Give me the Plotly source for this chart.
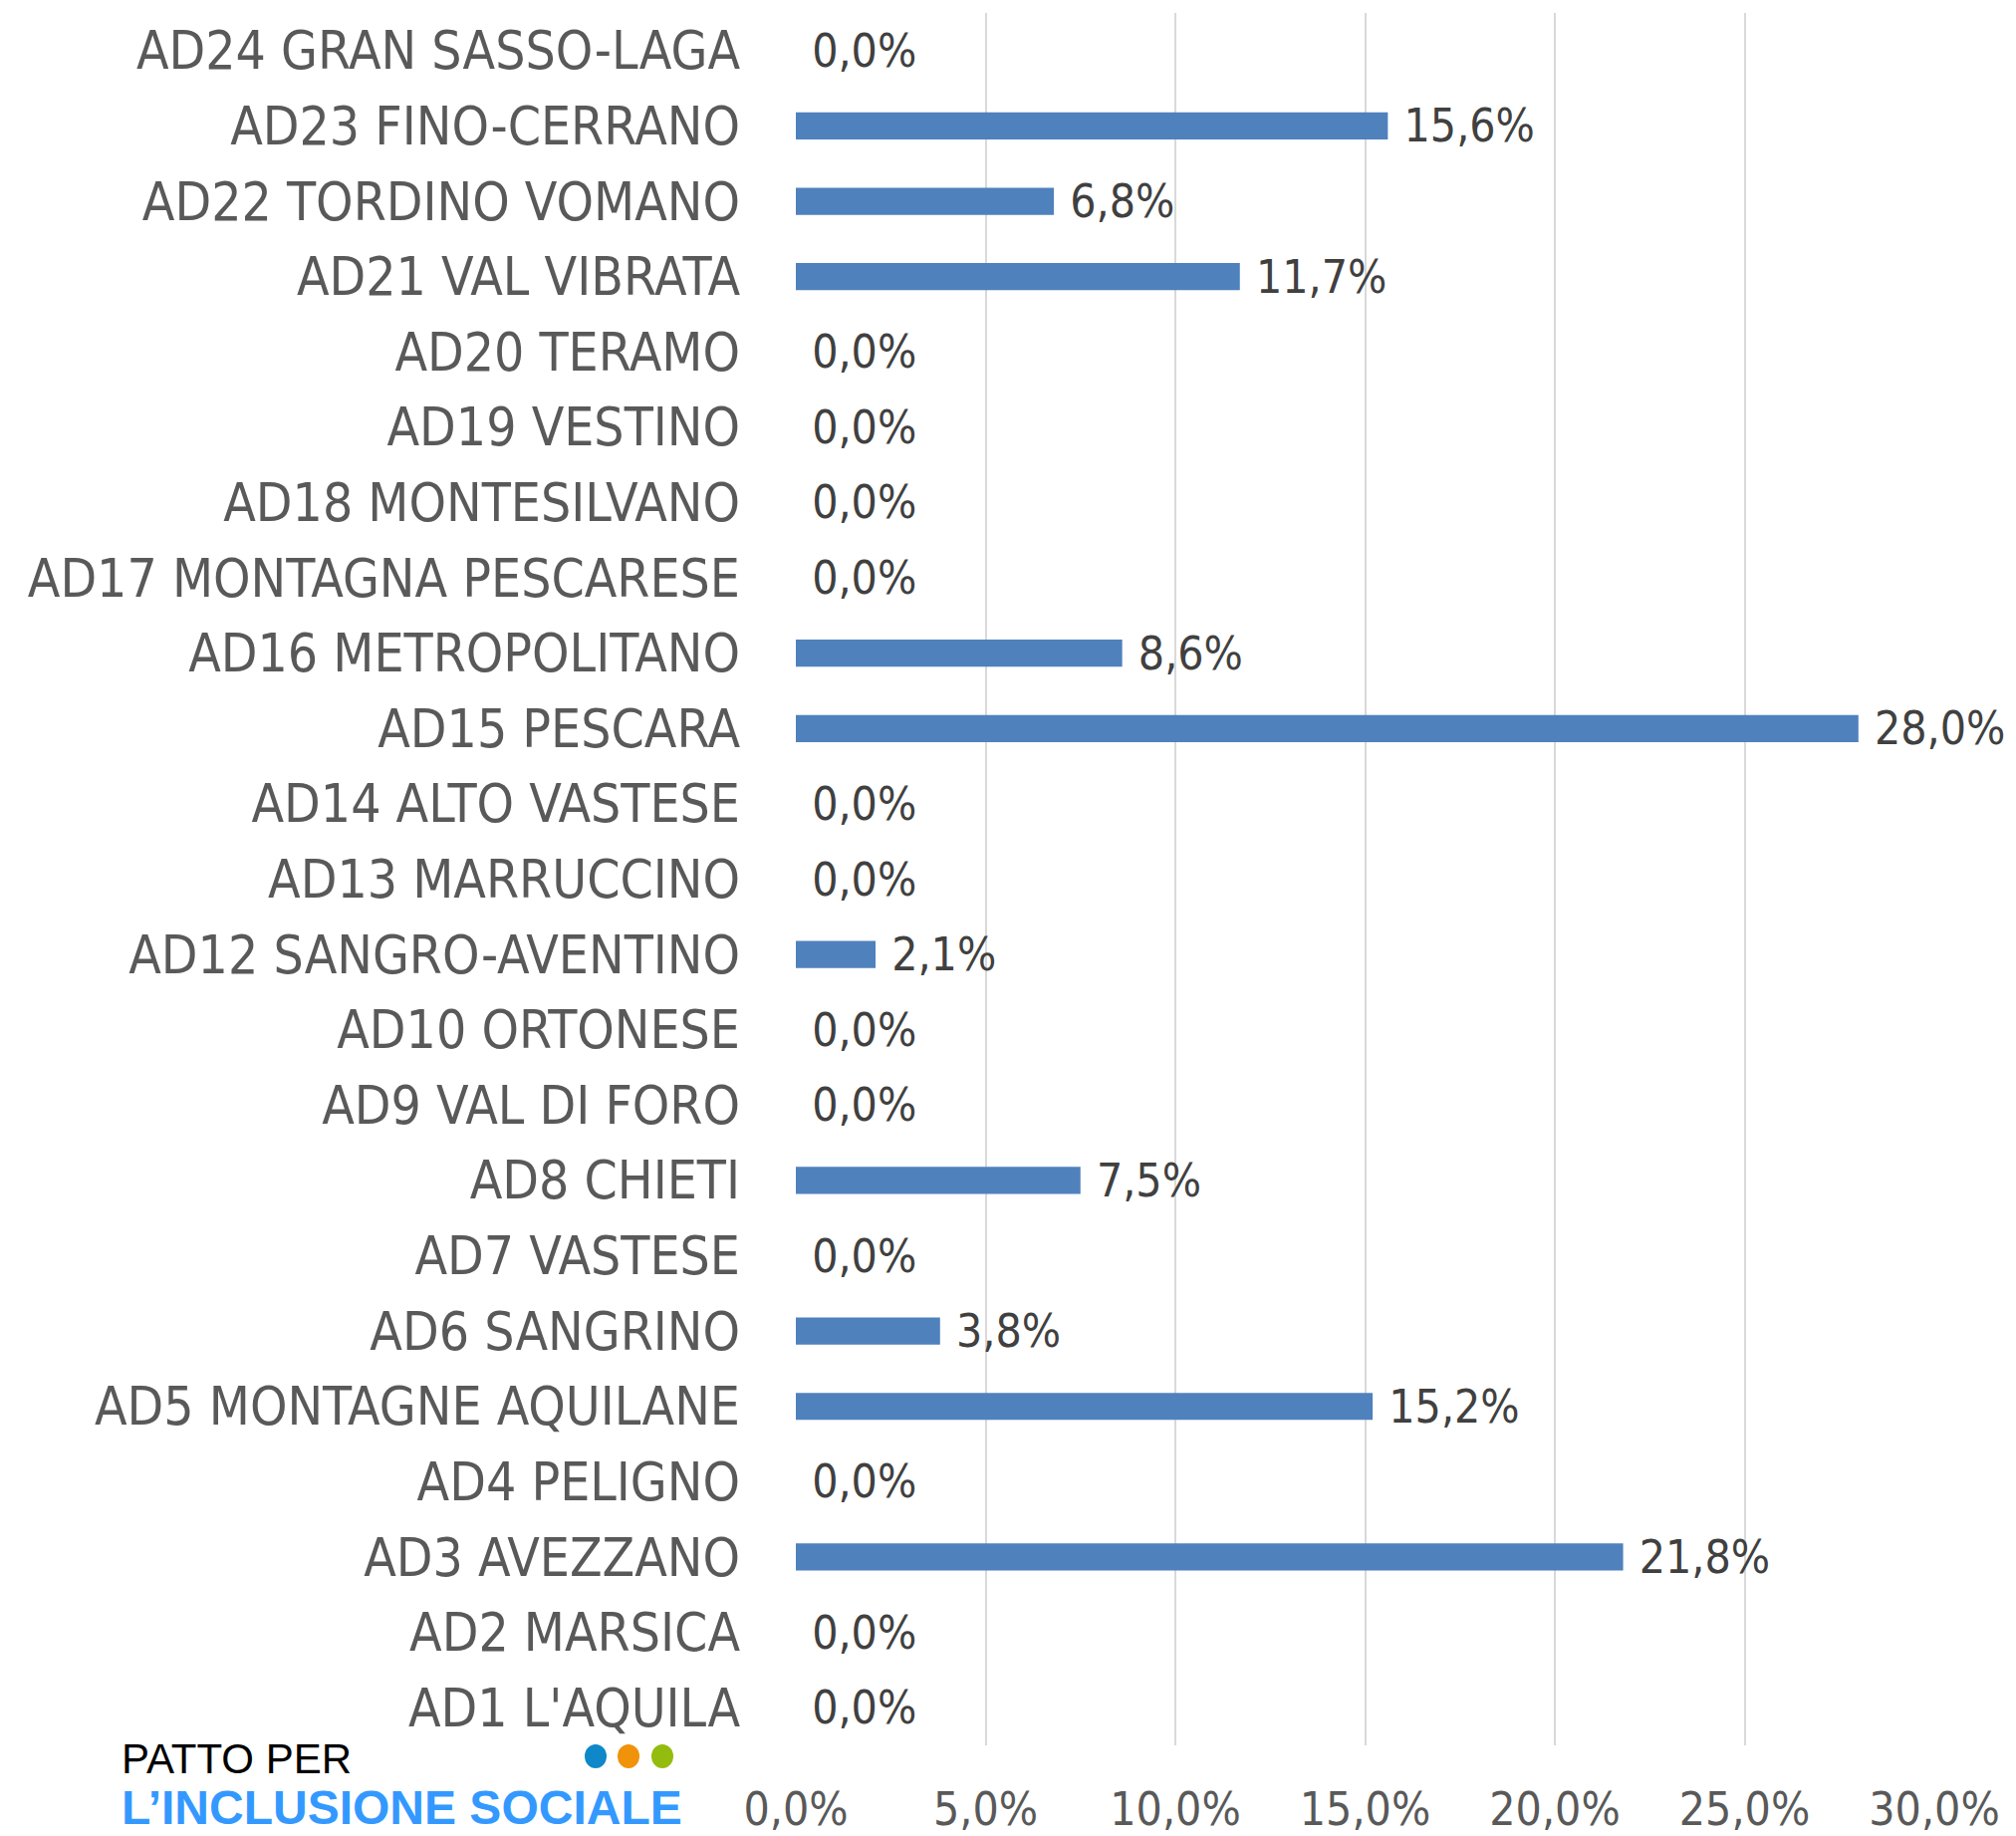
import plotly.graph_objects as go

categories = ["AD1 L'AQUILA", "AD2 MARSICA", "AD3 AVEZZANO", "AD4 PELIGNO",
              "AD5 MONTAGNE AQUILANE", "AD6 SANGRINO", "AD7 VASTESE", "AD8 CHIETI",
              "AD9 VAL DI FORO", "AD10 ORTONESE", "AD12 SANGRO-AVENTINO",
              "AD13 MARRUCCINO", "AD14 ALTO VASTESE", "AD15 PESCARA",
              "AD16 METROPOLITANO", "AD17 MONTAGNA PESCARESE", "AD18 MONTESILVANO",
              "AD19 VESTINO", "AD20 TERAMO", "AD21 VAL VIBRATA", "AD22 TORDINO VOMANO",
              "AD23 FINO-CERRANO", "AD24 GRAN SASSO-LAGA"]
values = [0.0, 0.0, 21.8, 0.0, 15.2, 3.8, 0.0, 7.5, 0.0, 0.0, 2.1, 0.0, 0.0, 28.0,
          8.6, 0.0, 0.0, 0.0, 0.0, 11.7, 6.8, 15.6, 0.0]
tick_vals = [0, 5, 10, 15, 20, 25, 30]
tick_text = ["0,0%", "5,0%", "10,0%", "15,0%", "20,0%", "25,0%", "30,0%"]

W, H = 2024, 1843
L, R, T, B = 799, 82, 13, 91
PW, PH = W - L - R, H - T - B

def px(x):
    return (x - L) / PW

def py(y):
    return (H - B - y) / PH

FONT = "DejaVu Sans Condensed, Liberation Sans Narrow, sans-serif"

labels = [" " + f"{v:.1f}".replace(".", ",") + "%" for v in values]

fig = go.Figure(go.Bar(
    y=categories, x=values, orientation="h",
    marker=dict(color="#4F81BD", line=dict(width=0)),
    width=0.36,
    text=labels, textposition="outside", cliponaxis=False, constraintext="none",
    textfont=dict(family=FONT, size=46, color="#404040"),
))

fig.update_layout(
    width=W, height=H,
    margin=dict(l=L, r=R, t=T, b=B, autoexpand=False),
    paper_bgcolor="white", plot_bgcolor="white",
    showlegend=False,
    xaxis=dict(range=[0, 30], tickvals=tick_vals, ticktext=tick_text,
               showgrid=True, gridcolor="#D9D9D9", gridwidth=1.5,
               zeroline=False, showline=False, ticks="", automargin=False,
               ticklabelstandoff=33,
               tickfont=dict(family=FONT, size=46, color="#595959")),
    yaxis=dict(categoryorder="array", categoryarray=categories,
               showgrid=False, zeroline=False, showline=False, ticks="", automargin=False,
               ticklabelstandoff=55,
               tickfont=dict(family=FONT, size=53, color="#595959")),
)

# logo
fig.add_annotation(xref="paper", yref="paper", x=px(120), y=py(1766),
                   xanchor="left", yanchor="middle", showarrow=False,
                   text="PATTO PER",
                   font=dict(family="Liberation Sans, Arial, sans-serif", size=42, color="#000000"))
fig.add_annotation(xref="paper", yref="paper", x=px(120), y=py(1814),
                   xanchor="left", yanchor="middle", showarrow=False,
                   text="<b>L’INCLUSIONE SOCIALE</b>",
                   font=dict(family="Liberation Sans, Arial, sans-serif", size=48, color="#3399FF"))
for cx, col in [(598, "#0E88C8"), (631, "#F0920A"), (665, "#94BC0E")]:
    fig.add_shape(type="circle", xref="paper", yref="paper",
                  x0=px(cx - 11), x1=px(cx + 11), y0=py(1763 + 12), y1=py(1763 - 12),
                  fillcolor=col, line=dict(width=0))

fig.write_html("out.html", config={"displayModeBar": False},
               post_script="document.body.style.margin='0px';document.body.style.overflow='hidden';")
